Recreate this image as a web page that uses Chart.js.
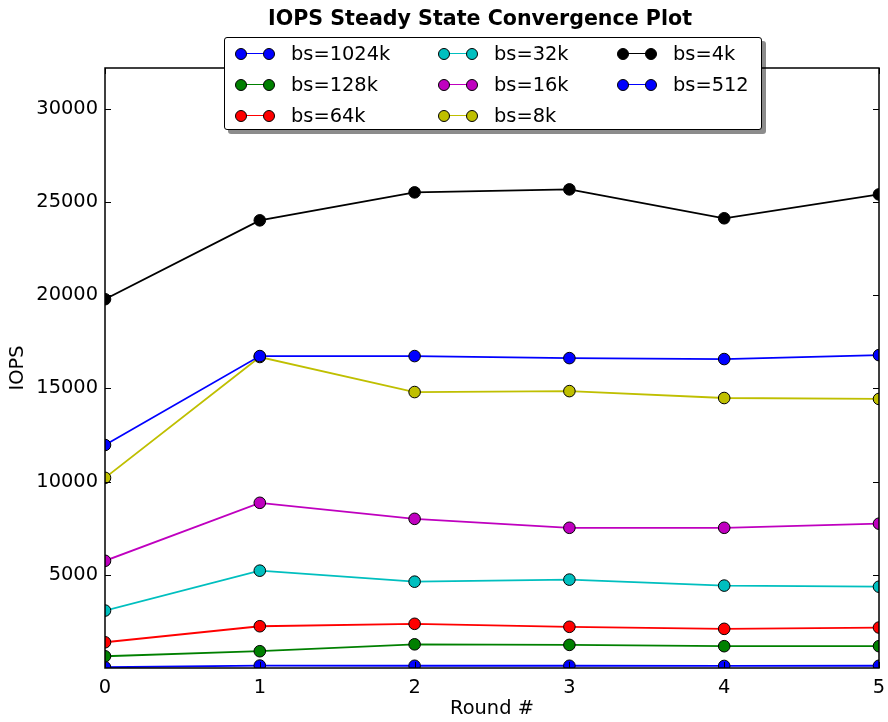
<!DOCTYPE html>
<html>
<head>
<meta charset="utf-8">
<script src="https://cdn.jsdelivr.net/npm/chart.js@4"></script>
<style>
  body { margin: 0; background: #fff; }
  #wrap { position: relative; width: 888px; height: 722px; font-family: "DejaVu Sans", sans-serif; }
  #title {
    position: absolute; top: 8px; left: 480px; transform: translateX(-50%);
    font-weight: bold; font-size: 20.6px; line-height: 20px; white-space: nowrap; color: #000;
  }
  #legend {
    position: absolute; left: 224px; top: 37px; width: 538px; height: 93px;
    border: 1px solid #000; border-radius: 3px; background: #fff;
    box-shadow: 4px 4px 0 rgba(0, 0, 0, 0.45);
    display: grid; grid-auto-flow: column;
    grid-template-rows: repeat(3, 31px);
    grid-template-columns: 203px 179px auto;
    padding-left: 10px; box-sizing: border-box; padding-top: 0;
  }
  .item { display: flex; align-items: center; font-size: 19.4px; color: #000; }
  .mk { position: relative; width: 40px; height: 12px; margin-right: 16px; }
  .mk .ln { position: absolute; left: 5px; right: 5px; top: 5px; height: 1.8px; }
  .mk .dot { position: absolute; top: 0; width: 10px; height: 10px; border-radius: 50%; border: 1px solid #000; }
</style>
</head>
<body>
<div id="wrap">
  <canvas id="iopsChart" width="888" height="722"></canvas>
  <div id="title">IOPS Steady State Convergence Plot</div>
  <div id="legend"></div>
</div>
<script>
const rounds = ["0", "1", "2", "3", "4", "5"];
const seriesNames = ["bs=1024k", "bs=128k", "bs=64k", "bs=32k", "bs=16k", "bs=8k", "bs=4k", "bs=512"];
const seriesColors = ["#0000ff", "#008000", "#ff0000", "#00bfbf", "#bf00bf", "#bfbf00", "#000000", "#0000ff"];

const bs1024k = [40, 130, 120, 120, 110, 120];
const bs128k = [630, 900, 1270, 1240, 1170, 1170];
const bs64k = [1380, 2240, 2370, 2210, 2100, 2170];
const bs32k = [3080, 5220, 4630, 4740, 4420, 4360];
const bs16k = [5750, 8860, 8000, 7520, 7520, 7740];
const bs8k = [10200, 16680, 14800, 14850, 14480, 14430];
const bs4k = [19780, 24010, 25510, 25670, 24120, 25400];
const bs512 = [11960, 16730, 16730, 16620, 16570, 16780];

const yTicks = [5000, 10000, 15000, 20000, 25000, 30000];
const yMax = 32180;

const seriesValues = [bs1024k, bs128k, bs64k, bs32k, bs16k, bs8k, bs4k, bs512];

const datasets = seriesValues.map((vals, i) => ({
    label: seriesNames[i],
    data: vals,
    borderColor: seriesColors[i],
    backgroundColor: seriesColors[i],
    pointBackgroundColor: seriesColors[i],
    pointBorderColor: "#000",
    pointBorderWidth: 1,
    pointRadius: 5.8,
    borderWidth: 1.8,
    tension: 0,
    clip: 0,
    order: seriesNames.length - i, // matplotlib draws the last series on top
}));

// axes frame with inward ticks, like the classic matplotlib style
const framePlugin = {
    id: "frame",
    afterDatasetsDraw(chart) {
        const { ctx, chartArea: a, scales } = chart;
        ctx.save();
        ctx.strokeStyle = "#000";
        ctx.lineWidth = 1;
        scales.y.ticks.forEach((t) => {
            const py = Math.round(scales.y.getPixelForValue(t.value)) + 0.5;
            ctx.beginPath();
            ctx.moveTo(a.left, py); ctx.lineTo(a.left + 6, py);
            ctx.moveTo(a.right, py); ctx.lineTo(a.right - 6, py);
            ctx.stroke();
        });
        rounds.forEach((r, i) => {
            const px = Math.round(scales.x.getPixelForValue(i)) + 0.5;
            ctx.beginPath();
            ctx.moveTo(px, a.bottom); ctx.lineTo(px, a.bottom - 6);
            ctx.moveTo(px, a.top); ctx.lineTo(px, a.top + 6);
            ctx.stroke();
        });
        ctx.lineWidth = 1.5;
        ctx.strokeRect(a.left, a.top, a.right - a.left, a.bottom - a.top);
        ctx.restore();
    },
};

const ctx = document.getElementById("iopsChart").getContext("2d");
const chart = new Chart(ctx, {
    type: "line",
    data: { labels: rounds, datasets: datasets },
    plugins: [framePlugin],
    options: {
        responsive: false,
        animation: false,
        devicePixelRatio: 1,
        layout: { padding: { top: 68, right: 9, left: 0, bottom: 0 } },
        plugins: {
            legend: { display: false },
            title: { display: false },
            tooltip: { enabled: false },
        },
        scales: {
            x: {
                offset: false,
                grid: { display: false, drawTicks: false },
                border: { display: false },
                ticks: {
                    color: "#000",
                    padding: 8,
                    font: { family: "DejaVu Sans", size: 19.4 },
                    maxRotation: 0,
                },
                title: {
                    display: true,
                    text: "Round #",
                    color: "#000",
                    font: { family: "DejaVu Sans", size: 19.4 },
                    padding: { top: 0, bottom: 1 },
                },
                afterFit: (s) => {
                    s.height = 54;
                    s.paddingLeft = 0;
                    s.paddingRight = 0;
                },
            },
            y: {
                min: 0,
                max: yMax,
                grid: { display: false, drawTicks: false },
                border: { display: false },
                afterBuildTicks: (s) => { s.ticks = yTicks.map((v) => ({ value: v })); },
                ticks: {
                    color: "#000",
                    padding: 7,
                    font: { family: "DejaVu Sans", size: 19.4 },
                    callback: (v) => String(v),
                },
                title: {
                    display: true,
                    text: "IOPS",
                    color: "#000",
                    font: { family: "DejaVu Sans", size: 19.4 },
                    padding: { top: 6, bottom: 0 },
                },
                afterFit: (s) => {
                    s.width = 105;
                    s.paddingTop = 0;
                    s.paddingBottom = 0;
                },
            },
        },
    },
});

// legend built from the datasets, three columns filled column by column
const legendEl = document.getElementById("legend");
chart.data.datasets.forEach((ds) => {
    const item = document.createElement("div");
    item.className = "item";
    const mk = document.createElement("span");
    mk.className = "mk";
    mk.innerHTML =
        '<span class="ln" style="background:' + ds.borderColor + '"></span>' +
        '<span class="dot" style="left:0;background:' + ds.borderColor + '"></span>' +
        '<span class="dot" style="right:0;background:' + ds.borderColor + '"></span>';
    const txt = document.createElement("span");
    txt.textContent = ds.label;
    item.appendChild(mk);
    item.appendChild(txt);
    legendEl.appendChild(item);
});
</script>
</body>
</html>
